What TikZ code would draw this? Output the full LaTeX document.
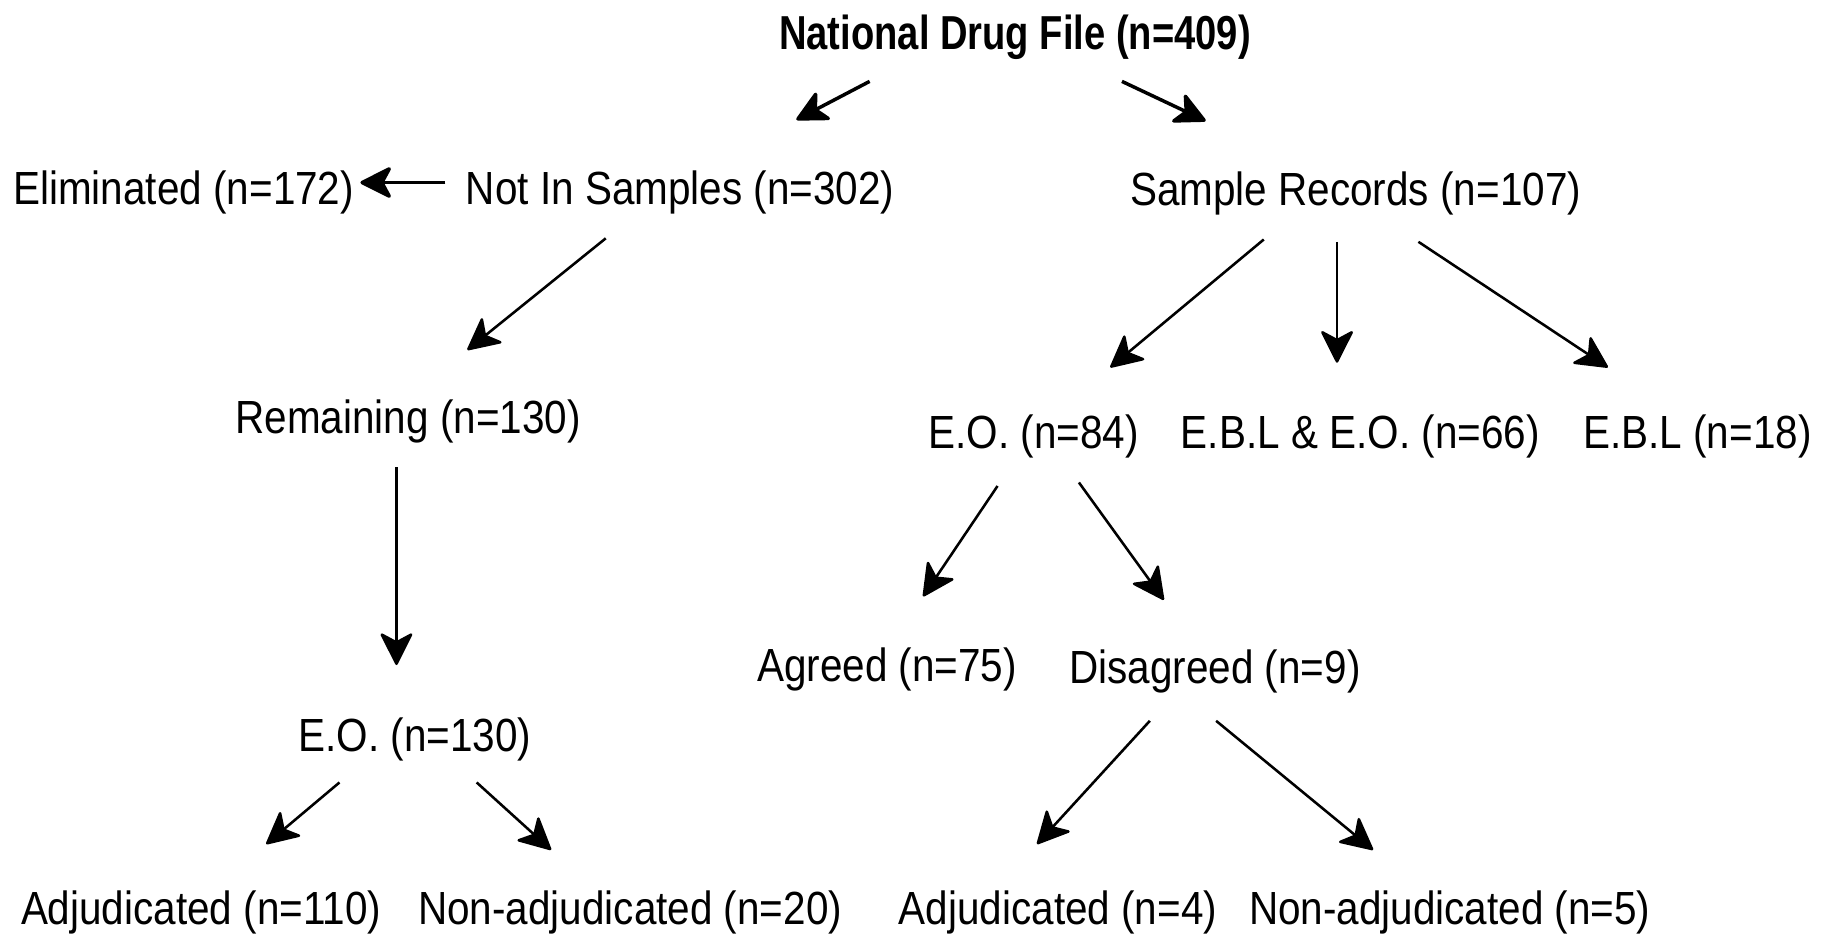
\documentclass[tikz,border=0pt]{standalone}
\usepackage{fontspec}
\setmainfont{Liberation Sans}[FakeStretch=0.87]
\newfontfamily\titlefont{Liberation Sans}[FakeStretch=0.8]
\usetikzlibrary{arrows.meta}
\begin{document}
\begin{tikzpicture}[x=0.5pt,y=-0.5pt,
  lbl/.style={inner sep=0pt,anchor=base,font=\fontsize{20pt}{24pt}\selectfont},
  ttl/.style={inner sep=0pt,anchor=base,font=\titlefont\bfseries\fontsize{20.5pt}{24pt}\selectfont},
  arr/.style={draw=black,line width=1.1pt,-{Stealth[length=15pt,width=15pt,inset=4pt,round]}},
  arrb/.style={arr,line width=1.5pt}]
\useasboundingbox (0,0) rectangle (1568,808);
% nodes
\node[ttl] (ndf) at (873,43) {National Drug File (n=409)};
\node[lbl] (notin) at (585,176) {Not In Samples (n=302)};
\node[lbl] (elim) at (158,176) {Eliminated (n=172)};
\node[lbl] (samp) at (1166,177) {Sample Records (n=107)};
\node[lbl] (rem) at (351,373) {Remaining (n=130)};
\node[lbl] (eo84) at (889,386) {E.O. (n=84)};
\node[lbl] (eblo) at (1170,386) {E.B.L \& E.O. (n=66)};
\node[lbl] (ebl) at (1460,386) {E.B.L (n=18)};
\node[lbl] (agr) at (763,586) {Agreed (n=75)};
\node[lbl] (dis) at (1045,588) {Disagreed (n=9)};
\node[lbl] (eo130) at (357,646) {E.O. (n=130)};
\node[lbl] (adj110) at (173,795) {Adjudicated (n=110)};
\node[lbl] (non20) at (542,795) {Non-adjudicated (n=20)};
\node[lbl] (adj4) at (910,795) {Adjudicated (n=4)};
\node[lbl] (non5) at (1247,795) {Non-adjudicated (n=5)};
% connector end points
\coordinate (ndfL) at (748,70);   \coordinate (notinT) at (685,103);
\coordinate (ndfR) at (965,70);   \coordinate (sampT) at (1037,104);
\coordinate (notinL) at (383,157); \coordinate (elimR) at (310,157);
\coordinate (notinB) at (521,205); \coordinate (remT) at (402,301);
\coordinate (remB) at (341,402);  \coordinate (eo130T) at (341,572);
\coordinate (sampB1) at (1087,206); \coordinate (eo84T) at (955,316);
\coordinate (sampB2) at (1150,208); \coordinate (ebloT) at (1150,312);
\coordinate (sampB3) at (1220,208); \coordinate (eblT) at (1383,316);
\coordinate (eo84B1) at (858,418); \coordinate (agrT) at (794,513);
\coordinate (eo84B2) at (928,415); \coordinate (disT) at (1001,516);
\coordinate (eo130B1) at (292,673); \coordinate (adj110T) at (229,726);
\coordinate (eo130B2) at (410,673); \coordinate (non20T) at (474,731);
\coordinate (disB1) at (989,620); \coordinate (adj4T) at (892,726);
\coordinate (disB2) at (1046,620); \coordinate (non5T) at (1181,731);
% connectors
\draw[arrb] (ndfL) -- (notinT);
\draw[arrb] (ndfR) -- (sampT);
\draw[arrb] (notinL) -- (elimR);
\draw[arr] (notinB) -- (remT);
\draw[arr] (remB) -- (eo130T);
\draw[arr] (sampB1) -- (eo84T);
\draw[arr] (sampB2) -- (ebloT);
\draw[arr] (sampB3) -- (eblT);
\draw[arr] (eo84B1) -- (agrT);
\draw[arr] (eo84B2) -- (disT);
\draw[arr] (eo130B1) -- (adj110T);
\draw[arr] (eo130B2) -- (non20T);
\draw[arr] (disB1) -- (adj4T);
\draw[arr] (disB2) -- (non5T);
\end{tikzpicture}
\end{document}
